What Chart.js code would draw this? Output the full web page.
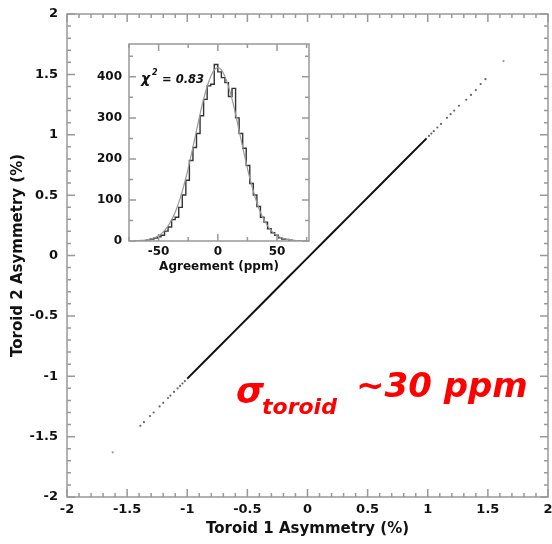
<!DOCTYPE html>
<html>
<head>
<meta charset="utf-8">
<script src="https://cdn.jsdelivr.net/npm/chart.js@4.4.1/dist/chart.umd.min.js"></script>
<style>
    html, body { margin: 0; padding: 0; background: #fff; }
    #wrap { position: relative; width: 552px; height: 544px; overflow: hidden; }
    #mainChart { position: absolute; left: 0; top: 0; }
    #insetChart { position: absolute; left: 80px; top: 36px; }
</style>
</head>
<body>
<div id="wrap">
    <canvas id="mainChart" width="552" height="544"></canvas>
    <canvas id="insetChart" width="240" height="244"></canvas>
</div>
<script>
// Main plot: toroid 2 vs toroid 1 asymmetry (%)
const coreX = [-1.00, -0.80, -0.60, -0.40, -0.20, 0.00, 0.20, 0.40, 0.60, 0.80, 0.99];
const coreY = [-1.02, -0.82, -0.62, -0.42, -0.22, -0.02, 0.18, 0.38, 0.58, 0.78, 0.97];

const lowTailX = [-1.39, -1.36, -1.31, -1.28, -1.23, -1.20, -1.16, -1.14, -1.11, -1.08, -1.06, -1.04, -1.02];
const lowTailY = [-1.41, -1.38, -1.33, -1.30, -1.25, -1.22, -1.18, -1.16, -1.13, -1.10, -1.08, -1.06, -1.04];

const highTailX = [1.01, 1.03, 1.05, 1.08, 1.11, 1.16, 1.19, 1.22, 1.26, 1.32, 1.36, 1.40, 1.44, 1.48];
const highTailY = [0.99, 1.01, 1.03, 1.06, 1.09, 1.14, 1.17, 1.20, 1.24, 1.29, 1.33, 1.37, 1.42, 1.46];

const outlierX = [-1.62, 1.63];
const outlierY = [-1.63, 1.61];

// Inset: agreement histogram (ppm) and gaussian fit
const binCenters = [-70.5, -67.5, -64.5, -61.5, -58.5, -55.5, -52.5, -49.5, -46.5, -43.5, -40.5, -37.5,
    -34.5, -31.5, -28.5, -25.5, -22.5, -19.5, -16.5, -13.5, -10.5, -7.5, -4.5, -1.5,
    1.5, 4.5, 7.5, 10.5, 13.5, 16.5, 19.5, 22.5, 25.5, 28.5, 31.5, 34.5,
    37.5, 40.5, 43.5, 46.5, 49.5, 52.5, 55.5, 58.5, 61.5, 64.5, 67.5, 70.5];
const binCounts = [0, 0, 1, 1, 3, 5, 7, 10, 14, 24, 34, 52,
    58, 82, 112, 148, 196, 228, 262, 305, 345, 378, 382, 430,
    412, 398, 386, 352, 372, 300, 262, 226, 184, 140, 112, 84,
    58, 46, 30, 20, 14, 8, 5, 4, 2, 1, 1, 0];
const fitCounts = [0.4, 0.8, 1.3, 2, 4, 6, 9, 14, 21, 31, 44, 60,
    81, 107, 137, 171, 209, 249, 289, 328, 362, 390, 410, 421,
    421, 410, 390, 362, 328, 289, 249, 209, 171, 137, 107, 81,
    60, 44, 31, 21, 14, 9, 6, 4, 2, 1.3, 0.8, 0.4];
const insetXLabels = [-50, 0, 50];

const FONT = 'DejaVu Sans';
const pairs = (xs, ys) => xs.map((x, i) => ({ x: x, y: ys[i] }));

// frame with inward ticks on all four sides
const frameTicks = {
    id: 'frameTicks',
    afterDatasetsDraw(chart, args, opts) {
        const { ctx, chartArea: a, scales: { x, y } } = chart;
        const near = (v, step) => Math.abs(v / step - Math.round(v / step)) < 1e-6;
        ctx.save();
        ctx.strokeStyle = opts.color;
        ctx.lineWidth = opts.width;
        ctx.strokeRect(a.left, a.top, a.right - a.left, a.bottom - a.top);
        ctx.beginPath();
        const x0 = Math.ceil(x.min / opts.xMinor - 1e-6) * opts.xMinor;
        for (let v = x0; v <= x.max + 1e-6; v += opts.xMinor) {
            const px = x.getPixelForValue(v);
            const len = near(v, opts.xMajor) ? opts.major : opts.minor;
            ctx.moveTo(px, a.bottom); ctx.lineTo(px, a.bottom - len);
            ctx.moveTo(px, a.top); ctx.lineTo(px, a.top + len);
        }
        const y0 = Math.ceil(y.min / opts.yMinor - 1e-6) * opts.yMinor;
        for (let v = y0; v <= y.max + 1e-6; v += opts.yMinor) {
            const py = y.getPixelForValue(v);
            const len = near(v, opts.yMajor) ? opts.major : opts.minor;
            ctx.moveTo(a.left, py); ctx.lineTo(a.left + len, py);
            ctx.moveTo(a.right, py); ctx.lineTo(a.right - len, py);
        }
        ctx.stroke();
        ctx.restore();
    }
};

const sigmaLabel = {
    id: 'sigmaLabel',
    afterDraw(chart) {
        const ctx = chart.ctx;
        ctx.save();
        ctx.fillStyle = '#ff0000';
        ctx.textBaseline = 'alphabetic';
        ctx.textAlign = 'left';
        ctx.font = 'italic bold 36px "' + FONT + '"';
        ctx.fillText('\u03C3', 236, 403);
        ctx.font = 'italic bold 22px "' + FONT + '"';
        ctx.fillText('toroid', 262, 414);
        ctx.font = 'italic bold 34px "' + FONT + '"';
        ctx.fillText('~30 ppm', 356, 397);
        ctx.restore();
    }
};

// chi-square note and the x tick labels of the inset
const insetText = {
    id: 'insetText',
    afterDraw(chart) {
        const { ctx, chartArea: a, scales: { x } } = chart;
        ctx.save();
        ctx.fillStyle = '#111';
        ctx.textAlign = 'left';
        ctx.font = 'italic bold 14px "' + FONT + '"';
        ctx.fillText('\u03C7', 61, 47);
        ctx.font = 'italic bold 8px "' + FONT + '"';
        ctx.fillText('2', 72, 39);
        ctx.font = 'italic bold 11.5px "' + FONT + '"';
        ctx.fillText('= 0.83', 82, 47);

        ctx.textAlign = 'center';
        ctx.textBaseline = 'top';
        ctx.font = 'bold 12px "' + FONT + '"';
        insetXLabels.forEach(v => ctx.fillText(String(v), x.getPixelForValue(v), a.bottom + 5));
        ctx.restore();
    }
};

const tickFont = (size) => ({ family: FONT, size: size, weight: 'bold' });

new Chart(document.getElementById('mainChart'), {
    type: 'scatter',
    data: {
        datasets: [
            {
                data: pairs(coreX, coreY),
                showLine: true,
                borderColor: '#111',
                borderWidth: 2,
                pointRadius: 0
            },
            {
                data: pairs(lowTailX, lowTailY).concat(pairs(highTailX, highTailY)),
                pointRadius: 1.1,
                pointBorderWidth: 0,
                backgroundColor: '#666'
            },
            {
                data: pairs(outlierX, outlierY),
                pointRadius: 1.1,
                pointBorderWidth: 0,
                backgroundColor: '#999'
            }
        ]
    },
    options: {
        responsive: false,
        animation: false,
        events: [],
        layout: { padding: { top: 14, right: 3, left: 0, bottom: 0 } },
        plugins: {
            legend: { display: false },
            tooltip: { enabled: false },
            frameTicks: { color: '#999', width: 1.5, xMinor: 0.1, xMajor: 0.5, yMinor: 0.1, yMajor: 0.5, major: 8, minor: 4 }
        },
        scales: {
            x: {
                type: 'linear', min: -2, max: 2,
                grid: { display: false, drawTicks: false },
                border: { display: false },
                ticks: { stepSize: 0.5, padding: 5, color: '#111', font: tickFont(13), maxRotation: 0, autoSkip: false, callback: v => String(v) },
                title: { display: true, text: 'Toroid 1 Asymmetry (%)', color: '#111', font: tickFont(15), padding: { top: 0, bottom: 6 } },
                afterFit: s => { s.height = 47; s.paddingLeft = 0; s.paddingRight = 0; }
            },
            y: {
                type: 'linear', min: -2, max: 2,
                grid: { display: false, drawTicks: false },
                border: { display: false },
                ticks: { stepSize: 0.5, padding: 9, color: '#111', font: tickFont(13), autoSkip: false, callback: v => String(v) },
                title: { display: true, text: 'Toroid 2 Asymmetry (%)', color: '#111', font: tickFont(15), padding: { top: 9, bottom: 0 } },
                afterFit: s => { s.width = 67; s.paddingTop = 0; s.paddingBottom = 0; }
            }
        }
    },
    plugins: [frameTicks, sigmaLabel]
});

new Chart(document.getElementById('insetChart'), {
    type: 'line',
    data: {
        datasets: [
            {
                data: pairs(binCenters, fitCounts),
                borderColor: '#999',
                borderWidth: 1.2,
                pointRadius: 0,
                tension: 0.4
            },
            {
                data: pairs(binCenters, binCounts),
                borderColor: '#333',
                borderWidth: 1.4,
                pointRadius: 0,
                stepped: 'middle'
            }
        ]
    },
    options: {
        responsive: false,
        animation: false,
        events: [],
        layout: { padding: { top: 8, right: 11, left: 0, bottom: 0 } },
        plugins: {
            legend: { display: false },
            tooltip: { enabled: false },
            frameTicks: { color: '#999', width: 1.5, xMinor: 25, xMajor: 50, yMinor: 50, yMajor: 100, major: 7, minor: 4 }
        },
        scales: {
            x: {
                type: 'linear', min: -75, max: 77,
                grid: { display: false, drawTicks: false },
                border: { display: false },
                ticks: { display: false },
                title: { display: true, text: 'Agreement (ppm)', color: '#111', font: tickFont(12), padding: { top: 0, bottom: 6 } },
                afterFit: s => { s.height = 39; s.paddingLeft = 0; s.paddingRight = 0; }
            },
            y: {
                type: 'linear', min: 0, max: 480,
                grid: { display: false, drawTicks: false },
                border: { display: false },
                ticks: { stepSize: 100, includeBounds: false, padding: 7, color: '#111', font: tickFont(12), autoSkip: false, callback: v => (v % 100 === 0 ? String(v) : '') },
                afterFit: s => { s.width = 49; s.paddingTop = 0; s.paddingBottom = 0; }
            }
        }
    },
    plugins: [frameTicks, insetText]
});
</script>
</body>
</html>
